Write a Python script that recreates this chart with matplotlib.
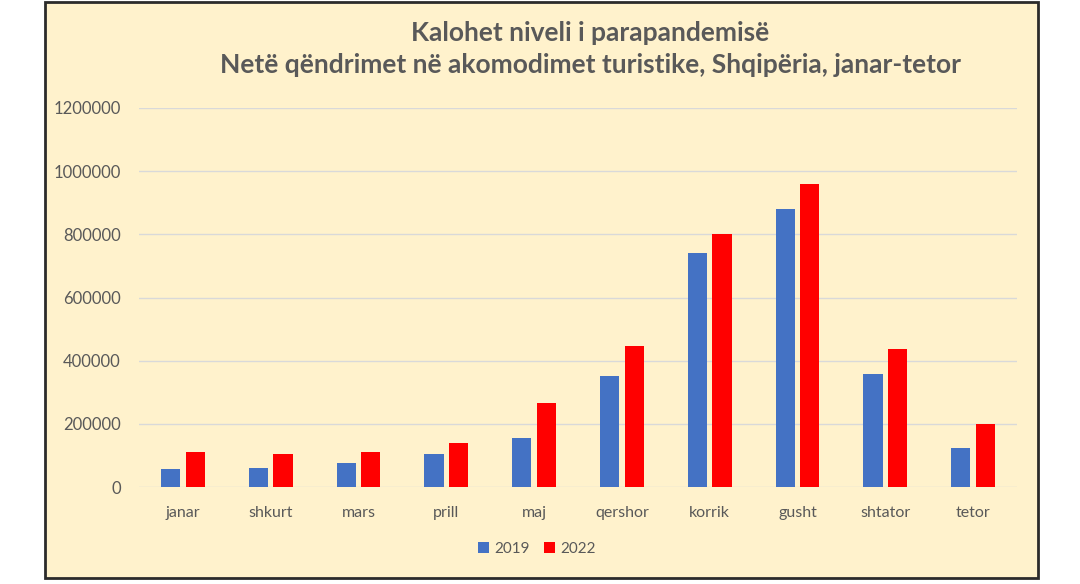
import matplotlib
matplotlib.use("Agg")
import matplotlib.pyplot as plt
from matplotlib.patches import Rectangle
import numpy as np

months = ["janar", "shkurt", "mars", "prill", "maj", "qershor", "korrik", "gusht", "shtator", "tetor"]
v2019 = [56000, 59000, 77000, 104000, 156000, 353000, 742000, 881000, 358000, 122000]
v2022 = [110000, 104000, 112000, 138000, 266000, 446000, 800000, 960000, 436000, 200000]
yticks = [0, 200000, 400000, 600000, 800000, 1000000, 1200000]
series_labels = ["2019", "2022"]
title1 = "Kalohet niveli i parapandemisë"
title2 = "Netë qëndrimet në akomodimet turistike, Shqipëria, janar-tetor"

W, H = 1080, 584
fig = plt.figure(figsize=(W / 100, H / 100), dpi=100)
fig.patch.set_facecolor("white")

FONT = ["Lato", "DejaVu Sans"]
TXT = "#595959"

# panel
fig.patches.append(Rectangle((45 / W, 1 - 578 / H), (1038 - 45) / W, (578 - 2) / H,
                             transform=fig.transFigure, facecolor="#FFF2CC",
                             edgecolor="#2b2b2b", linewidth=2, zorder=-5))

ax = fig.add_axes([139 / W, 1 - 487 / H, (1017 - 139) / W, (487 - 108) / H])
ax.set_facecolor("none")
x = np.arange(len(months))
w = 0.22
off = 0.14
b1 = ax.bar(x - off, v2019, w, color="#4472C4", label=series_labels[0], zorder=3)
b2 = ax.bar(x + off, v2022, w, color="#FF0000", label=series_labels[1], zorder=3)
ax.set_xlim(-0.5, len(months) - 0.5)
ax.set_ylim(0, 1200000)
ax.set_yticks(yticks)
ax.set_yticklabels([str(t) for t in yticks], fontfamily=FONT, fontsize=12, color=TXT)
ax.set_xticks(x)
ax.set_xticklabels(months, fontfamily=FONT, fontsize=11.5, color=TXT)
ax.tick_params(axis="both", length=0)
ax.tick_params(axis="y", pad=13)
ax.tick_params(axis="x", pad=14)
ax.grid(axis="y", color="#D9D9D9", linewidth=1.0, zorder=0)
for s in ax.spines.values():
    s.set_visible(False)

fig.text(590 / W, 1 - 33 / H, title1, ha="center", va="center", fontfamily=FONT,
         fontweight="bold", fontsize=19, color=TXT)
fig.text(590 / W, 1 - 65 / H, title2, ha="center", va="center", fontfamily=FONT,
         fontweight="bold", fontsize=19, color=TXT)

leg = fig.legend(handles=[b1, b2], labels=series_labels, loc="center",
                 bbox_to_anchor=(537 / W, 1 - 549 / H), ncol=2, frameon=False,
                 prop={"family": FONT, "size": 11}, handlelength=0.7, handleheight=0.7,
                 handletextpad=0.4, columnspacing=0.9)
for t in leg.get_texts():
    t.set_color(TXT)

fig.savefig("out.png", dpi=100, facecolor="white")
